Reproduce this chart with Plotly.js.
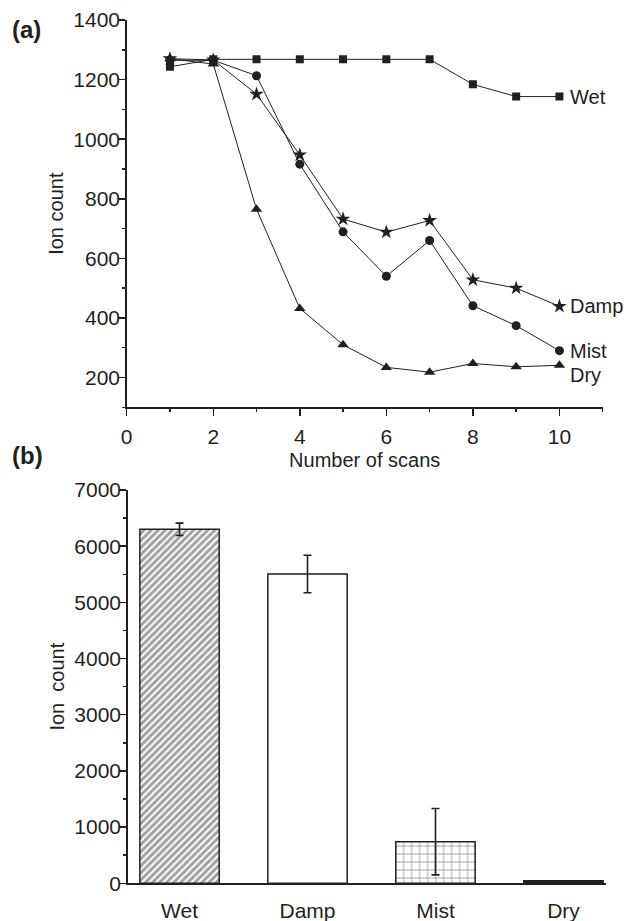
<!DOCTYPE html>
<html>
<head>
<meta charset="utf-8">
<script src="https://cdn.plot.ly/plotly-3.0.1.min.js"></script>
<style>html,body{margin:0;padding:0;background:#fff;}#chart{width:628px;height:921px;}</style>
</head>
<body>
<div id="chart"></div>
<script>
// ---- Data (a) ----
const scans = [1, 2, 3, 4, 5, 6, 7, 8, 9, 10];
const wetIon  = [1243, 1268, 1268, 1268, 1268, 1268, 1268, 1184, 1143, 1143];
const dampIon = [1270, 1266, 1151, 947, 732, 688, 727, 528, 500, 439];
const mistIon = [1265, 1265, 1213, 916, 689, 540, 660, 441, 374, 290];
const dryIon  = [1270, 1252, 765, 432, 310, 234, 218, 247, 236, 241];
const seriesNames = ["Wet", "Damp", "Mist", "Dry"];

// ---- Data (b) ----
const barCategories = ["Wet", "Damp", "Mist", "Dry"];
const barValues = [6300, 5505, 740, 45];
const barErrors = [110, 335, 590, 0];

const ink = "#231f20";
const font = "Liberation Sans, Arial, sans-serif";
const W = 628, H = 921;
const px = v => v / W;
const py = v => 1 - v / H;

const lineSeries = [
  {y: wetIon, sym: "square", size: 8},
  {y: dampIon, sym: "star", size: 11},
  {y: mistIon, sym: "circle", size: 9},
  {y: dryIon, sym: "triangle-up", size: 10}
];

const traces = lineSeries.map((s, i) => ({
  type: "scatter", mode: "lines+markers",
  x: scans, y: s.y, name: seriesNames[i],
  xaxis: "x", yaxis: "y",
  line: {color: ink, width: 1},
  marker: {symbol: s.sym, size: s.size, color: ink},
  showlegend: false, hoverinfo: "skip"
}));

traces.push({
  type: "bar", x: barCategories, y: barValues,
  xaxis: "x2", yaxis: "y2", width: 0.62,
  marker: {
    color: ["#ffffff", "#ffffff", "#ffffff", ink],
    line: {color: ink, width: 1.5},
    pattern: {
      shape: ["/", "", "+", ""],
      size: [5, 8, 8, 8],
      solidity: [0.6, 0.1, 0.22, 0.1],
      fgcolor: ink,
      bgcolor: "#ffffff",
      fillmode: "overlay"
    }
  },
  error_y: {type: "data", array: barErrors, visible: true, color: ink, thickness: 1.6, width: 4},
  showlegend: false, hoverinfo: "skip"
});

const axBase = {
  showgrid: false, zeroline: false, showline: true, linecolor: ink, linewidth: 1.5,
  ticks: "outside", tickcolor: ink, tickwidth: 1.5, ticklen: 7,
  tickfont: {family: font, size: 21, color: ink}, automargin: false
};

const labelFont = {family: font, size: 20, color: ink};
const annotations = [
  {text: "<b>(a)</b>", xref: "paper", yref: "paper", x: px(26), y: py(29), xanchor: "center", yanchor: "middle", showarrow: false, font: {family: font, size: 24, color: ink}},
  {text: "<b>(b)</b>", xref: "paper", yref: "paper", x: px(27), y: py(455), xanchor: "center", yanchor: "middle", showarrow: false, font: {family: font, size: 24, color: ink}}
];
const lastVals = [wetIon[9], dampIon[9], mistIon[9], dryIon[9]];
const yShifts = [0, 0, 0, -10];
seriesNames.forEach((n, i) => {
  annotations.push({text: n, xref: "x", yref: "y", x: scans[9], y: lastVals[i],
    xanchor: "left", yanchor: "middle", xshift: 9, yshift: yShifts[i], showarrow: false, font: labelFont});
});

const layout = {
  width: W, height: H,
  margin: {l: 0, r: 0, t: 0, b: 0},
  paper_bgcolor: "#fff", plot_bgcolor: "#fff",
  showlegend: false,
  xaxis: Object.assign({}, axBase, {
    domain: [px(126.7), px(602.7)], anchor: "y",
    range: [0, 11], tick0: 0, dtick: 2, ticklabelstandoff: 3,
    minor: {dtick: 1, ticks: "outside", ticklen: 3.5, tickcolor: ink, tickwidth: 1.5},
    title: {text: "Number of scans", font: labelFont, standoff: 6}
  }),
  yaxis: Object.assign({}, axBase, {
    domain: [py(407.3), py(20)], anchor: "x",
    range: [100, 1400], tick0: 0, dtick: 200, ticklabelstandoff: -6,
    minor: {dtick: 100, ticks: "outside", ticklen: 3.5, tickcolor: ink, tickwidth: 1.5},
    title: {text: "Ion count", font: labelFont, standoff: 4}
  }),
  xaxis2: Object.assign({}, axBase, {
    domain: [px(127.7), px(605.7)], anchor: "y2",
    type: "category", range: [-0.405, 3.33], ticks: "", ticklabelstandoff: 8
  }),
  yaxis2: Object.assign({}, axBase, {
    domain: [py(883.3), py(490)], anchor: "x2",
    range: [0, 7000], tick0: 0, dtick: 1000, ticklabelstandoff: -6,
    minor: {dtick: 500, ticks: "outside", ticklen: 3.5, tickcolor: ink, tickwidth: 1.5},
    title: {text: "Ion  count", font: labelFont, standoff: 4}
  }),
  annotations: annotations
};

Plotly.newPlot("chart", traces, layout, {staticPlot: true, displayModeBar: false});
</script>
</body>
</html>
